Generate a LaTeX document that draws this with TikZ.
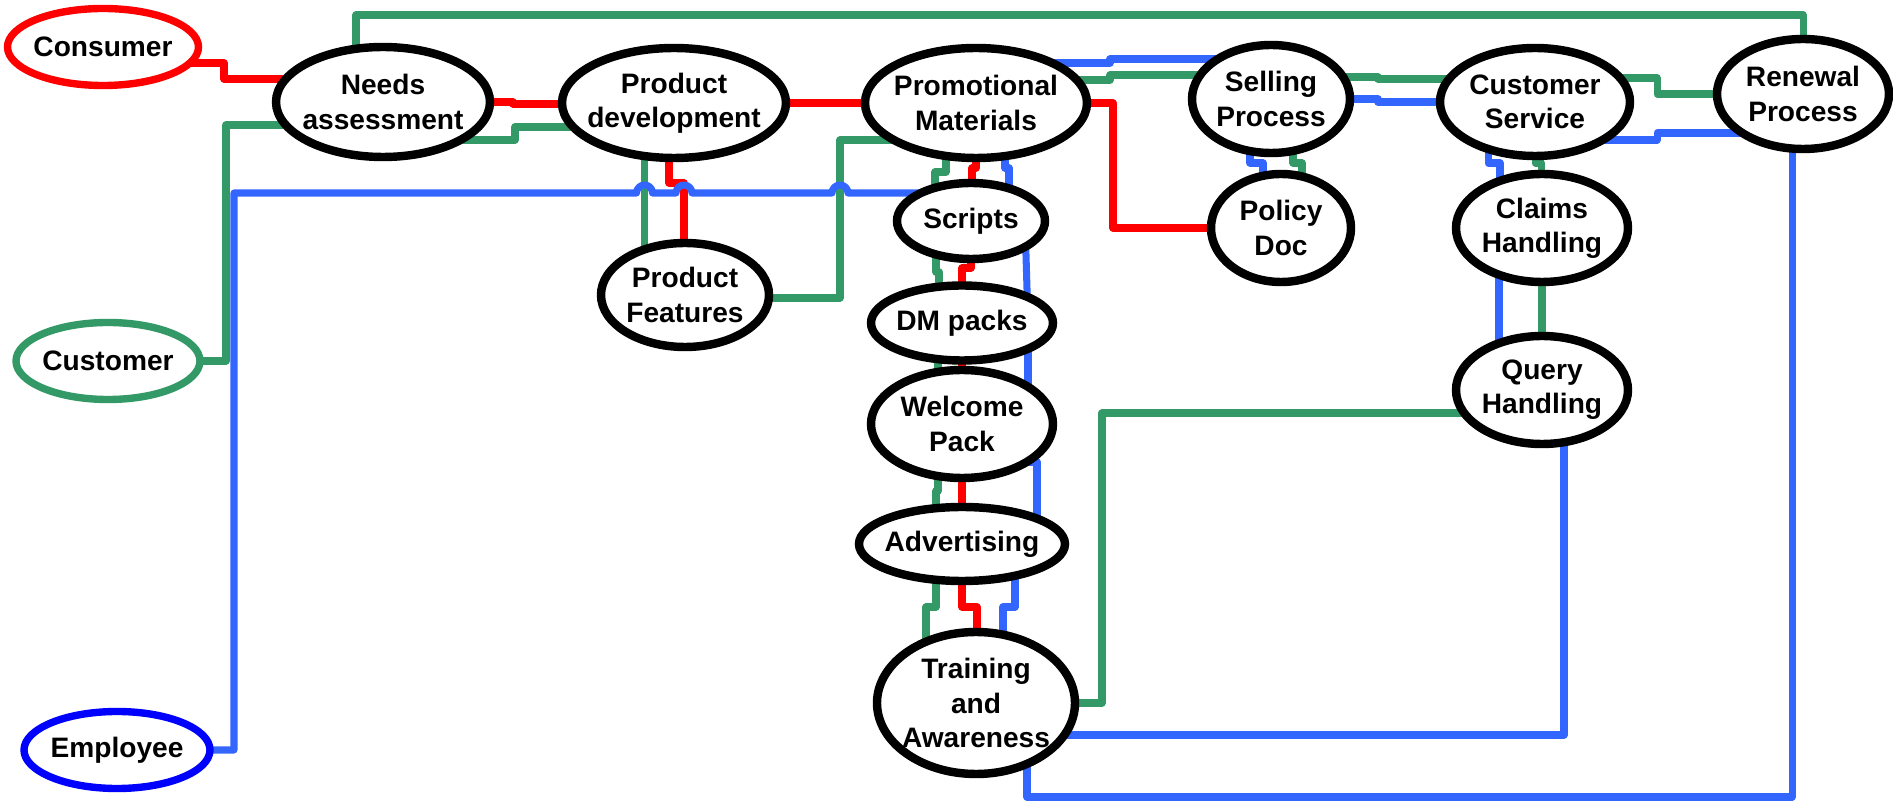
\documentclass[tikz,border=0pt]{standalone}
\usepackage{fontspec}
\setmainfont{Liberation Sans}
\usetikzlibrary{shapes.geometric,backgrounds}
\definecolor{actred}{RGB}{255,0,0}
\definecolor{actgreen}{RGB}{51,153,102}
\definecolor{actblue}{RGB}{0,0,255}
\definecolor{lineblue}{RGB}{51,102,255}
\tikzset{
  proc/.style ={ellipse, draw=black, line width=2.4pt, fill=white, align=center,
                inner sep=-5mm, font=\fontsize{8}{9.7}\selectfont\bfseries},
  actor/.style={ellipse, line width=2.1pt, fill=white, align=center, inner sep=-5mm,
                minimum height=0.77cm, font=\fontsize{8}{9.7}\selectfont\bfseries},
  redl/.style ={draw=actred, line width=2pt, line join=round, line cap=round},
  grnl/.style ={draw=actgreen, line width=2pt, line join=round, line cap=round},
  blul/.style ={draw=lineblue, line width=2pt, line join=round, line cap=round}
}
\begin{document}
\begin{tikzpicture}
\useasboundingbox (0,0) rectangle (18.93,-8.03);
\foreach \nm/\x/\y/\w/\col/\txt in {cons/1.03/-0.47/1.91/actred/Consumer,
    cust/1.08/-3.61/1.84/actgreen/Customer, emp/1.17/-7.50/1.86/actblue/Employee}{
  \node[actor, draw=\col, minimum width=\w cm] (\nm) at (\x,\y) {\txt};
}
\foreach \nm/\x/\y/\w/\h/\txt in {needs/3.83/-1.02/2.14/1.10/{Needs\\assessment},
    pdev/6.74/-1.03/2.24/1.10/{Product\\development},
    prom/9.76/-1.03/2.22/1.10/{Promotional\\Materials},
    pfeat/6.85/-2.95/1.68/1.04/{Product\\Features},
    scr/9.71/-2.21/1.48/0.76/Scripts,
    dm/9.62/-3.23/1.82/0.75/{DM packs},
    welc/9.62/-4.24/1.82/1.08/{Welcome\\Pack},
    adv/9.62/-5.44/2.06/0.74/Advertising,
    train/9.76/-7.03/1.98/1.42/{Training\\and\\Awareness},
    sell/12.71/-0.99/1.58/1.08/{Selling\\Process},
    pol/12.81/-2.28/1.40/1.08/{Policy\\Doc},
    cserv/15.35/-1.02/1.90/1.08/{Customer\\Service},
    claim/15.42/-2.28/1.72/1.08/{Claims\\Handling},
    query/15.42/-3.90/1.72/1.08/{Query\\Handling},
    renew/18.03/-0.94/1.72/1.10/{Renewal\\Process}}{
  \node[proc, minimum width=\w cm, minimum height=\h cm] (\nm) at (\x,\y) {\txt};
}
\begin{scope}[on background layer]
\draw[redl] ([yshift=-1.6mm]cons.center) -| (2.24,-0.79) -- (needs.center |- 0,-0.79);
\draw[redl] (needs.center) -| (5.13,-1.04) -- (pdev.center |- 0,-1.04);
\draw[redl] (pdev.center) -- (prom.center);
\draw[redl] ([xshift=-0.5mm]pdev.center) |- (6.84,-1.83) -- (pfeat.center -| 6.84,0);
\draw[redl] (prom.center) |- (9.72,-1.68) -- (scr.center -| 9.72,0);
\draw[redl] (scr.center) |- (9.62,-2.68) -- (dm.center);
\draw[redl] (dm.center) -- (welc.center);
\draw[redl] (welc.center) -- (adv.center);
\draw[redl] (adv.center) |- (9.77,-6.07) -- (train.center -| 9.77,0);
\draw[redl] (prom.center) -| (11.13,-2.28) -- (pol.center);
\draw[grnl] (cust.center) -| (2.26,-1.25) -- (needs.center |- 0,-1.25);
\draw[grnl] ([xshift=-2.7mm]needs.center) |- (18.03,-0.15) -- (renew.center);
\draw[grnl] ([yshift=-3.8mm]needs.center) -| (5.15,-1.27) -- (pdev.center |- 0,-1.27);
\draw[grnl] ([xshift=-2.95mm]pdev.center) -- ([xshift=-4.05mm]pfeat.center);
\draw[grnl] ([yshift=-0.3mm]pfeat.center) -| (8.40,-1.40) -- (prom.center |- 0,-1.40);
\draw[grnl] ([yshift=2.3mm]prom.center) -| (11.10,-0.75) -- (sell.center |- 0,-0.75);
\draw[grnl] ([yshift=2.2mm]sell.center) -| (13.78,-0.79) -- (cserv.center |- 0,-0.79);
\draw[grnl] ([xshift=2.2mm]sell.center) |- (13.02,-1.63) -- (pol.center -| 13.02,0);
\draw[grnl] (cserv.center) |- (15.41,-1.63) -- (claim.center -| 15.41,0);
\draw[grnl] ([yshift=2.4mm]cserv.center) -| (16.57,-0.94) -- (renew.center);
\draw[grnl] (claim.center) -- (query.center);
\draw[grnl] ([yshift=-2.3mm]query.center) -| (11.02,-7.03) -- (train.center |- 0,-7.03);
\draw[grnl] ([xshift=-3mm]prom.center) |- (9.35,-1.72) -- (scr.center -| 9.35,0);
\draw[grnl] ([xshift=-3.5mm]scr.center) |- (9.39,-2.72) -- (dm.center -| 9.39,0);
\draw[grnl] ([xshift=-2.4mm]dm.center) -- ([xshift=-2.4mm]welc.center);
\draw[grnl] ([xshift=-2.4mm]welc.center) |- (9.36,-4.91) -- (adv.center -| 9.36,0);
\draw[grnl] ([xshift=-2.6mm]adv.center) |- (9.26,-6.07) -- (train.center -| 9.26,0);
\draw[blul] (emp.center) -| (2.34,-1.93) -- (6.365,-1.93)
  arc[start angle=180, end angle=0, radius=0.8mm] -- (6.76,-1.93)
  arc[start angle=180, end angle=0, radius=0.8mm] -- (8.32,-1.93)
  arc[start angle=180, end angle=0, radius=0.8mm] -- (scr.center |- 0,-1.93);
\draw[blul] ([yshift=4mm]prom.center) -| (11.10,-0.59) -- (sell.center |- 0,-0.59);
\draw[blul] (sell.center) -| (13.78,-1.02) -- (cserv.center);
\draw[blul] ([xshift=-2.1mm]sell.center) |- (12.63,-1.63) -- (pol.center -| 12.63,0);
\draw[blul] ([xshift=-4.7mm]cserv.center) |- (15.00,-1.63) -- (claim.center -| 15.00,0);
\draw[blul] ([yshift=-3.8mm]cserv.center) -| (16.57,-1.33) -- (renew.center |- 0,-1.33);
\draw[blul] ([xshift=-4.3mm]claim.center) -- ([xshift=-4.3mm]query.center);
\draw[blul] ([xshift=2.2mm]query.center) |- (train.center |- 0,-7.35);
\draw[blul] ([xshift=-1.1mm]renew.center) |- (10.27,-7.97) -- (train.center -| 10.27,0);
\draw[blul] ([xshift=2.9mm]prom.center) |- (10.09,-1.68) -- (scr.center -| 10.09,0);
\draw[blul] ([xshift=5.4mm]scr.center) -- ([xshift=6.6mm]dm.center);
\draw[blul] ([xshift=6.6mm]dm.center) -- ([xshift=6.6mm]welc.center);
\draw[blul] ([yshift=-3.8mm]welc.center) -| (adv.center -| 10.37,0);
\draw[blul] ([xshift=5.3mm]adv.center) |- (10.03,-6.07) -- (train.center -| 10.03,0);
\end{scope}
\end{tikzpicture}
\end{document}
